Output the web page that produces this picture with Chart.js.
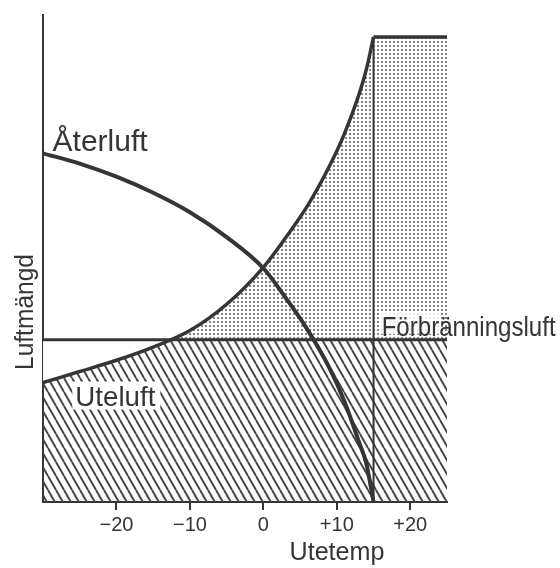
<!DOCTYPE html>
<html>
<head>
<meta charset="utf-8">
<script src="https://cdn.jsdelivr.net/npm/chart.js@4"></script>
<style>
  html, body { margin: 0; padding: 0; background: #fff; }
  #wrap { width: 560px; height: 568px; }
</style>
</head>
<body>
<div id="wrap"><canvas id="luftChart" width="560" height="568"></canvas></div>
<script>
// Utetemp (°C) och luftmängd (relativ skala, ingen enhet i originalet)
const temps = [-30, -25, -20, -15, -10, -5, 0, 3, 6, 9, 11, 13, 14, 15];
const uteluft = [24.5, 26.8, 29.1, 31.8, 35.2, 40.6, 48.2, 54.2, 60.8, 69, 75.5, 83.6, 88.7, 95.5];
const aterluft = [71.6, 69.5, 66.8, 63.5, 59.5, 54.4, 48.0, 42, 35.4, 27.5, 20.8, 12.4, 8.0, 0];
const maxTemps = [15, 25];
const maxLuft = [95.5, 95.5];
const forbrTemps = [-30, 25];
const forbrLuft = [33.3, 33.3];
const xTicks = [-20, -10, 0, 10, 20];

const ink = '#353535';

function toPoints(xs, ys) {
    return xs.map((x, i) => ({ x: x, y: ys[i] }));
}

// Snedstreckad fyllning
function hatchPattern() {
    const c = document.createElement('canvas');
    c.width = 8; c.height = 14;
    const g = c.getContext('2d');
    g.strokeStyle = '#444';
    g.lineWidth = 1.9;
    [-8, 0, 8].forEach(dx => {
        g.beginPath();
        g.moveTo(dx, 0);
        g.lineTo(dx + 8, 14);
        g.stroke();
    });
    return g.createPattern(c, 'repeat');
}

// Prickig fyllning
function dotPattern() {
    const c = document.createElement('canvas');
    c.width = 4; c.height = 4;
    const g = c.getContext('2d');
    g.fillStyle = '#666';
    g.beginPath();
    g.arc(2, 2, 1.1, 0, Math.PI * 2);
    g.fill();
    return g.createPattern(c, 'repeat');
}

const hatch = hatchPattern();
const dots = dotPattern();

// Texter i diagrammet
const labelPlugin = {
    id: 'labels',
    afterDraw(chart) {
        const { ctx } = chart;
        const xs = chart.scales.x;
        const ys = chart.scales.y;
        ctx.save();
        ctx.textBaseline = 'alphabetic';
        ctx.textAlign = 'left';

        ctx.font = '30px "Liberation Sans", sans-serif';
        ctx.fillStyle = ink;
        ctx.fillText('Återluft', xs.getPixelForValue(-28.7), ys.getPixelForValue(72.0), 96);

        // vit bakgrund bakom Uteluft
        ctx.font = '28px "Liberation Sans", sans-serif';
        const ux = xs.getPixelForValue(-25.6);
        const uy = ys.getPixelForValue(19.8);
        ctx.fillStyle = '#fff';
        ctx.fillRect(ux - 3, uy - 24, 88, 28);
        ctx.fillStyle = ink;
        ctx.fillText('Uteluft', ux, uy, 80);

        const fx = xs.getPixelForValue(16.1);
        const fy = ys.getPixelForValue(33.3) - 4;
        ctx.fillStyle = 'rgba(255,255,255,0.85)';
        ctx.fillRect(fx - 2, fy - 24, 60, 22);
        ctx.fillStyle = ink;
        ctx.fillText('Förbränningsluft', fx, fy, 174);

        ctx.font = '26px "Liberation Sans", sans-serif';
        ctx.textAlign = 'center';
        ctx.fillText('Utetemp', 337, 560, 95);

        ctx.font = '25px "Liberation Sans", sans-serif';
        ctx.translate(33, 312);
        ctx.rotate(-Math.PI / 2);
        ctx.fillText('Luftmängd', 0, 0, 116);
        ctx.restore();
    }
};

const ctx = document.getElementById('luftChart').getContext('2d');
new Chart(ctx, {
    type: 'line',
    data: {
        datasets: [{
            label: 'Återluft',
            data: toPoints(temps, aterluft),
            borderColor: ink,
            borderWidth: 4,
            cubicInterpolationMode: 'monotone',
            fill: false
        }, {
            label: 'Uteluft',
            data: toPoints(temps, uteluft),
            borderColor: ink,
            borderWidth: 3.5,
            cubicInterpolationMode: 'monotone',
            fill: { target: 4, above: dots, below: '#ffffff' }
        }, {
            label: 'Max',
            data: toPoints(maxTemps, maxLuft),
            borderColor: ink,
            borderWidth: 3.5,
            fill: { target: 4, above: dots, below: 'transparent' }
        }, {
            label: 'Gräns',
            data: toPoints([maxTemps[0], maxTemps[0]], [0, maxLuft[0]]),
            borderColor: ink,
            borderWidth: 2,
            fill: false
        }, {
            label: 'Förbränningsluft',
            data: toPoints(forbrTemps, forbrLuft),
            borderColor: ink,
            borderWidth: 3,
            backgroundColor: hatch,
            fill: 'origin'
        }]
    },
    options: {
        responsive: false,
        animation: false,
        layout: { padding: { left: 43, right: 113, top: 15, bottom: 28 } },
        elements: { point: { radius: 0 } },
        plugins: {
            legend: { display: false },
            tooltip: { enabled: false },
            filler: { drawTime: 'beforeDatasetsDraw' }
        },
        scales: {
            x: {
                type: 'linear',
                min: -30,
                max: 25,
                afterBuildTicks: (scale) => {
                    scale.ticks = xTicks.map(v => ({ value: v }));
                },
                ticks: {
                    color: ink,
                    font: { size: 20, family: '"Liberation Sans", sans-serif' },
                    padding: 3,
                    callback: (v) => v > 0 ? '+' + v : (v < 0 ? '\u2212' + Math.abs(v) : '0')
                },
                grid: { drawOnChartArea: false, drawTicks: true, tickLength: 8, color: ink, lineWidth: 2 },
                border: { display: true, color: ink, width: 2 }
            },
            y: {
                min: 0,
                max: 100,
                ticks: { display: false },
                grid: { display: false, drawTicks: false },
                border: { display: true, color: ink, width: 2 }
            }
        }
    },
    plugins: [labelPlugin]
});
</script>
</body>
</html>
